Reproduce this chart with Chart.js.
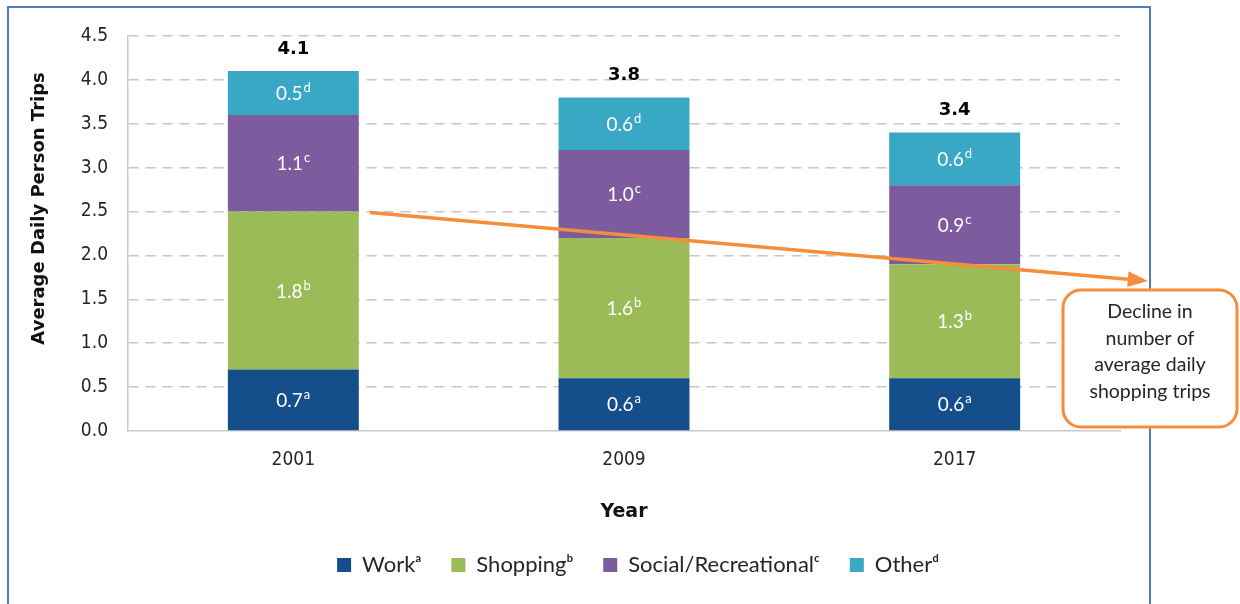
<!DOCTYPE html>
<html>
<head>
<meta charset="utf-8">
<script src="https://cdn.jsdelivr.net/npm/chart.js@4.4.1/dist/chart.umd.min.js"></script>
<style>
  html, body { margin: 0; padding: 0; background: #fff; }
  #wrap { width: 1240px; height: 604px; position: relative; }
</style>
</head>
<body>
<div id="wrap"><canvas id="trips"></canvas></div>
<script>
"use strict";

// values
var years = ["2001", "2009", "2017"];
var work = [0.7, 0.6, 0.6];
var shopping = [1.8, 1.6, 1.3];
var social = [1.1, 1.0, 0.9];
var other = [0.5, 0.6, 0.6];
var totals = [4.1, 3.8, 3.4];

var seriesNames = ["Work", "Shopping", "Social/Recreational", "Other"];
var footnotes = ["a", "b", "c", "d"];
var legendMarks = ["\u1d43", "\u1d47", "\u1d9c", "\u1d48"];
var seriesColors = ["#144f8c", "#9bbb59", "#7c5c9e", "#39a8c5"];

// trend arrow, in data units (category index, trips)
var arrowFrom = [0.232, 2.49];
var arrowTo = [2.584, 1.71];
var calloutLines = ["Decline in", "number of", "average daily", "shopping trips"];

var AXIS_FONT = "'DejaVu Sans', Verdana, sans-serif";
var TICK_FONT = "'DejaVu Sans Condensed', 'DejaVu Sans', sans-serif";
var FONT = "Lato, 'Open Sans', sans-serif";
var ORANGE = "#f58d3a";

var frame = {
  id: "frame",
  beforeDraw: function(chart) {
    var ctx = chart.ctx;
    ctx.save();
    ctx.strokeStyle = "#4f7ebf";
    ctx.lineWidth = 2;
    ctx.strokeRect(8, 7, 1142, 610);
    ctx.restore();
  }
};

var legendShift = {
  id: "legendShift",
  afterLayout: function(chart) {
    chart.legend.left += 78;
    chart.legend.right += 78;
  }
};

var barLabels = {
  id: "barLabels",
  afterDatasetsDraw: function(chart) {
    var ctx = chart.ctx;
    ctx.save();
    ctx.textBaseline = "middle";
    chart.data.datasets.forEach(function(ds, i) {
      var meta = chart.getDatasetMeta(i);
      meta.data.forEach(function(bar, j) {
        var num = ds.data[j].toFixed(1);
        var sup = footnotes[i];
        var cy = (bar.y + bar.base) / 2;
        ctx.font = "19px " + FONT;
        var w1 = ctx.measureText(num).width;
        ctx.font = "13px " + FONT;
        var w2 = ctx.measureText(sup).width;
        var x0 = bar.x - (w1 + w2 + 1) / 2;
        ctx.fillStyle = "#ffffff";
        ctx.textAlign = "left";
        ctx.font = "19px " + FONT;
        ctx.fillText(num, x0, cy + 1);
        ctx.font = "13px " + FONT;
        ctx.fillText(sup, x0 + w1 + 1, cy - 5);
      });
    });
    // totals above the stacks
    var top = chart.getDatasetMeta(chart.data.datasets.length - 1);
    ctx.fillStyle = "#000";
    ctx.textAlign = "center";
    ctx.font = "bold 18px " + AXIS_FONT;
    top.data.forEach(function(bar, j) {
      ctx.fillText(totals[j].toFixed(1), bar.x, bar.y - 22);
    });
    ctx.restore();
  }
};

var trendArrow = {
  id: "trendArrow",
  afterDraw: function(chart) {
    var ctx = chart.ctx;
    var xs = chart.scales.x, ys = chart.scales.y;
    var x1 = xs.getPixelForValue(arrowFrom[0]), y1 = ys.getPixelForValue(arrowFrom[1]);
    var x2 = xs.getPixelForValue(arrowTo[0]), y2 = ys.getPixelForValue(arrowTo[1]);
    var ang = Math.atan2(y2 - y1, x2 - x1);
    var head = 20, half = 8;
    var hx = x2 - head * Math.cos(ang), hy = y2 - head * Math.sin(ang);
    ctx.save();
    ctx.strokeStyle = ORANGE;
    ctx.fillStyle = ORANGE;
    ctx.lineWidth = 3.5;
    ctx.beginPath();
    ctx.moveTo(x1, y1);
    ctx.lineTo(hx, hy);
    ctx.stroke();
    ctx.beginPath();
    ctx.moveTo(x2, y2);
    ctx.lineTo(hx + half * Math.sin(ang), hy - half * Math.cos(ang));
    ctx.lineTo(hx - half * Math.sin(ang), hy + half * Math.cos(ang));
    ctx.closePath();
    ctx.fill();

    // callout box
    var bx = 1063, by = 290, bw = 174, bh = 137, r = 18;
    ctx.beginPath();
    ctx.moveTo(bx + r, by);
    ctx.arcTo(bx + bw, by, bx + bw, by + bh, r);
    ctx.arcTo(bx + bw, by + bh, bx, by + bh, r);
    ctx.arcTo(bx, by + bh, bx, by, r);
    ctx.arcTo(bx, by, bx + bw, by, r);
    ctx.closePath();
    ctx.fillStyle = "#fff";
    ctx.fill();
    ctx.lineWidth = 3;
    ctx.stroke();
    ctx.fillStyle = "#262626";
    ctx.font = "19.5px " + FONT;
    ctx.textAlign = "center";
    ctx.textBaseline = "middle";
    calloutLines.forEach(function(line, k) {
      ctx.fillText(line, bx + bw / 2, by + 22 + k * 26.5);
    });
    ctx.restore();
  }
};

var seriesData = [work, shopping, social, other];

new Chart(document.getElementById("trips"), {
  type: "bar",
  data: {
    labels: years,
    datasets: seriesData.map(function(values, i) {
      return {
        label: seriesNames[i] + legendMarks[i],
        data: values,
        backgroundColor: seriesColors[i],
        borderWidth: 0,
        barPercentage: 0.396,
        categoryPercentage: 1.0
      };
    })
  },
  options: {
    responsive: true,
    maintainAspectRatio: false,
    animation: false,
    layout: { padding: { top: 36, right: 120, bottom: 18, left: 0 } },
    plugins: {
      tooltip: { enabled: false },
      legend: {
        position: "bottom",
        labels: {
          boxWidth: 14,
          boxHeight: 14,
          padding: 30,
          color: "#262626",
          font: { family: FONT, size: 22 }
        }
      }
    },
    scales: {
      x: {
        stacked: true,
        grid: { display: false, drawTicks: false },
        border: { display: true, color: "#c9c9c9", width: 1.5 },
        ticks: { color: "#262626", padding: 18, font: { family: TICK_FONT, size: 19 } },
        title: {
          display: true,
          text: "Year",
          color: "#111",
          padding: { top: 0, bottom: 1 },
          font: { family: AXIS_FONT, size: 19, weight: "bold" }
        },
        afterFit: function(scale) { scale.height = 93; }
      },
      y: {
        stacked: true,
        min: 0,
        max: 4.5,
        ticks: {
          stepSize: 0.5,
          padding: 20,
          color: "#262626",
          font: { family: TICK_FONT, size: 19 },
          callback: function(v) { return v.toFixed(1); }
        },
        grid: {
          drawTicks: false,
          color: function(c) { return c.tick.value === 0 ? "rgba(0,0,0,0)" : "#c6c6c6"; },
          lineWidth: 1.5
        },
        border: { display: true, color: "#c9c9c9", width: 1.5, dash: [10, 7] },
        title: {
          display: true,
          // leading spaces nudge the title up, as in the original
          text: "        Average Daily Person Trips",
          color: "#111",
          padding: { top: 29, bottom: 0 },
          font: { family: AXIS_FONT, size: 18, weight: "bold" }
        },
        afterFit: function(scale) { scale.width = 128; }
      }
    }
  },
  plugins: [frame, legendShift, barLabels, trendArrow]
});
</script>
</body>
</html>
